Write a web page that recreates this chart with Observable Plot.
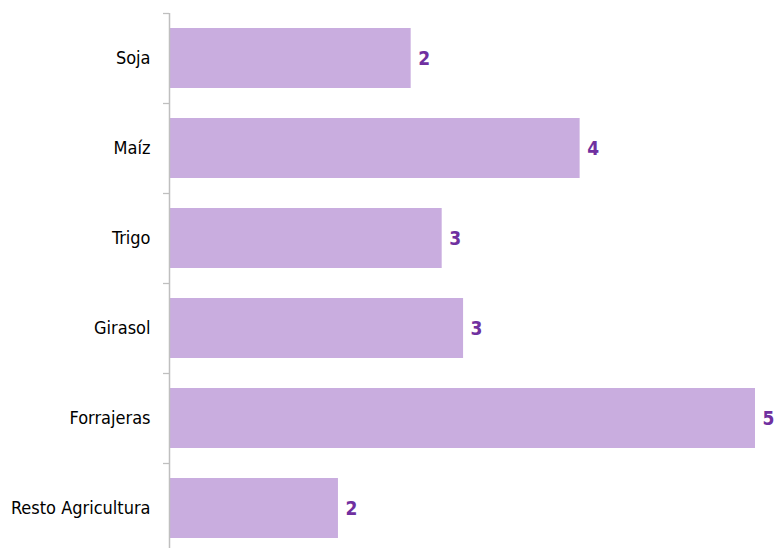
<!DOCTYPE html>
<html>
<head>
<meta charset="utf-8">
<script src="https://cdn.jsdelivr.net/npm/d3@7"></script>
<script src="https://cdn.jsdelivr.net/npm/@observablehq/plot@0.6"></script>
<style>
  html, body { margin: 0; padding: 0; background: #fff; overflow: hidden; }
</style>
</head>
<body>
<div id="chart"></div>
<script>
const categories = ["Soja", "Maíz", "Trigo", "Girasol", "Forrajeras", "Resto Agricultura"];
const values = [2.26, 3.84, 2.55, 2.75, 5.48, 1.58];
const labels = ["2", "4", "3", "3", "5", "2"];

const data = categories.map((c, i) => ({cat: c, value: values[i], label: labels[i]}));
const font = "'Liberation Sans Narrow', 'DejaVu Sans Condensed', sans-serif";

const chart = Plot.plot({
  width: 775,
  height: 548,
  marginLeft: 169,
  marginRight: 20,
  marginTop: 13,
  marginBottom: 0,
  style: {fontFamily: font, fontSize: "16px", background: "#fff", overflow: "visible"},
  x: {domain: [0, d3.max(values)], axis: null},
  y: {domain: categories, range: [13, 553], paddingInner: 1/3, paddingOuter: 1/6, label: null},
  marks: [
    Plot.barX(data, {x: "value", y: "cat", fill: "#c9addf"}),
    Plot.text(data, {x: "value", y: "cat", text: "label", dx: 7, textAnchor: "start",
      fill: "#7030a0", fontWeight: "bold", fontSize: 19, fontFamily: font}),
    Plot.axisY({tickSize: 6, dy: -45, text: null, stroke: "#bfbfbf", strokeWidth: 1.3, label: null}),
    Plot.axisY({tickSize: 0, tickPadding: 19, fill: "#000", fontSize: 18, fontFamily: font, label: null}),
    Plot.ruleX([0], {stroke: "#bfbfbf", strokeWidth: 1.5})
  ]
});
document.getElementById("chart").appendChild(chart);
</script>
</body>
</html>
